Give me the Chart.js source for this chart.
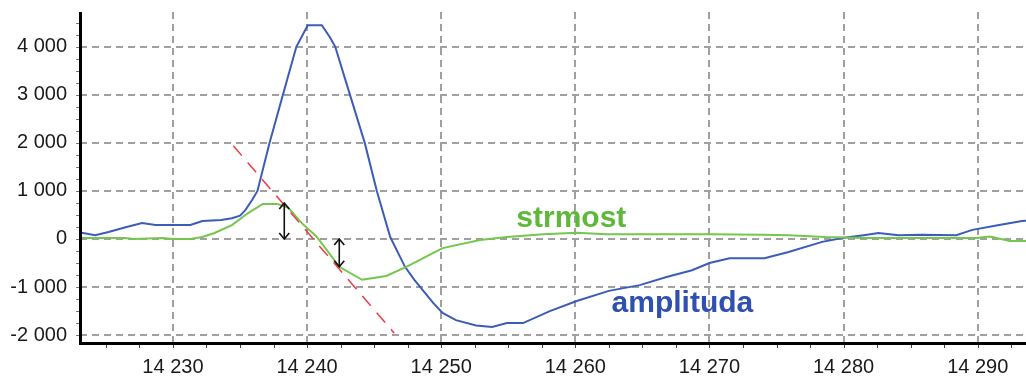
<!DOCTYPE html>
<html>
<head>
<meta charset="utf-8">
<script src="https://cdn.jsdelivr.net/npm/chart.js@4"></script>
<style>
html,body{margin:0;padding:0;background:#fff;}
#wrap{width:1026px;height:378px;}
</style>
</head>
<body>
<div id="wrap"><canvas id="c" width="1026" height="378"></canvas></div>
<script>
// ---- data ----
const ampX = [14223.1,14223.3,14224.2,14225.2,14226.4,14227.7,14228.7,14230,14231.3,14232.2,14233.6,14234.4,14235.0,14235.4,14235.9,14236.3,14237.2,14238.2,14239.2,14240.05,14241.1,14241.7,14242.1,14243.2,14244.3,14245.2,14246.2,14247.3,14248.0,14249.4,14250.1,14251.1,14252.6,14253.8,14254.9,14256.1,14258.1,14260.1,14262.5,14264.8,14266.8,14268.7,14270.0,14271.5,14274.1,14275.9,14278.4,14279.9,14281.5,14282.6,14284.1,14285.8,14288.4,14289.6,14291.6,14293.3,14293.6];
const ampY = [130,125,80,145,240,330,290,290,290,375,395,430,485,600,810,1000,2000,3000,4000,4450,4450,4200,4000,3000,2000,1000,40,-580,-850,-1330,-1540,-1690,-1800,-1830,-1750,-1750,-1500,-1290,-1080,-960,-790,-650,-500,-400,-400,-270,-60,20,80,125,80,90,80,190,290,375,380];
const strX = [14223.1,14226.4,14227.1,14229.2,14230,14231.3,14232.2,14233.1,14234.4,14235.6,14236.7,14237.8,14238.6,14239.6,14240.6,14240.9,14242.4,14244.1,14245.9,14247.4,14250.1,14252.9,14254.9,14257.6,14260.1,14262.3,14270.0,14274.0,14275.9,14278.6,14281.6,14289.9,14290.9,14292.4,14293.6];
const strY = [20,20,0,20,0,0,40,125,290,540,730,730,650,330,80,-20,-580,-850,-770,-580,-190,-20,40,100,130,100,100,90,80,40,20,20,50,-40,-40];
const tangentX = [14234.5,14246.5];
const tangentY = [1940,-1960];
const arrowX = [14238.3,14242.4];
const arrowFrom = [750,0];
const arrowTo = [0,-580];
const labelText = ['strmost','amplituda'];
const labelX = [14255.6,14262.7];
const labelY = [250,-1520];
const xTicks = [14230,14240,14250,14260,14270,14280,14290];
const yTicks = [-2000,-1000,0,1000,2000,3000,4000];

const BLUE = '#3b5db8', GREEN = '#74c64c', RED = '#ee3b45';
const fmt = v => { const s = Math.abs(v).toString().replace(/\B(?=(\d{3})+(?!\d))/g,' '); return (v<0?'-':'')+s; };
const zip = (xs,ys) => xs.map((x,i)=>({x:x,y:ys[i]}));

const decor = {
  id:'decor',
  afterDraw(chart){
    const {ctx, chartArea:a, scales:{x,y}} = chart;
    ctx.save();
    // arrows
    ctx.strokeStyle='#111'; ctx.lineWidth=1.6;
    arrowX.forEach((xv,i)=>{
      const px = x.getPixelForValue(xv);
      const y1 = y.getPixelForValue(arrowFrom[i]), y2 = y.getPixelForValue(arrowTo[i]);
      ctx.beginPath(); ctx.moveTo(px,y1); ctx.lineTo(px,y2); ctx.stroke();
      ctx.beginPath();
      ctx.moveTo(px-5,y1+6); ctx.lineTo(px,y1); ctx.lineTo(px+5,y1+6);
      ctx.moveTo(px-5,y2-6); ctx.lineTo(px,y2); ctx.lineTo(px+5,y2-6);
      ctx.stroke();
    });
    // series labels
    ctx.font='bold 30px "Liberation Sans", Arial, sans-serif';
    ctx.textBaseline='alphabetic'; ctx.textAlign='left';
    const cols=['#5fb83a','#2f50b0'];
    labelText.forEach((t,i)=>{
      ctx.fillStyle=cols[i];
      ctx.fillText(t, x.getPixelForValue(labelX[i]), y.getPixelForValue(labelY[i]));
    });
    // minor ticks
    ctx.strokeStyle='#444'; ctx.lineWidth=1;
    for(let v=14222.5; v<=x.max; v+=2.5){
      if(v<x.min) continue;
      const px=Math.round(x.getPixelForValue(v))+0.5;
      ctx.beginPath(); ctx.moveTo(px,a.bottom+1); ctx.lineTo(px,a.bottom+6); ctx.stroke();
    }
    ctx.strokeStyle='#777';
    for(let v=-2000; v<=y.max; v+=250){
      const py=Math.round(y.getPixelForValue(v))+0.5;
      ctx.beginPath(); ctx.moveTo(a.left-4,py); ctx.lineTo(a.left,py); ctx.stroke();
    }
    // axis lines
    ctx.strokeStyle='#000'; ctx.lineWidth=3;
    ctx.beginPath(); ctx.moveTo(a.left+0.5,a.top); ctx.lineTo(a.left+0.5,a.bottom+1.5); ctx.lineTo(a.right,a.bottom+1.5); ctx.stroke();
    ctx.restore();
  }
};

new Chart(document.getElementById('c'),{
  type:'line',
  data:{datasets:[
    {label:'tangent', data:zip(tangentX,tangentY), borderColor:RED, borderWidth:1.5, borderDash:[13,9], pointRadius:0, order:0},
    {label:'strmost', data:zip(strX,strY), borderColor:GREEN, borderWidth:2, pointRadius:0, tension:0, order:1},
    {label:'amplituda', data:zip(ampX,ampY), borderColor:BLUE, borderWidth:2, pointRadius:0, tension:0, order:2}
  ]},
  options:{
    responsive:false, animation:false,
    layout:{padding:{top:12,right:0,left:0,bottom:0}},
    plugins:{legend:{display:false}, tooltip:{enabled:false}},
    scales:{
      x:{type:'linear', min:14223.07, max:14293.6,
        afterFit:s=>{s.height=36; s.paddingLeft=0; s.paddingRight=0;},
        afterBuildTicks:s=>{s.ticks=xTicks.map(v=>({value:v}));},
        ticks:{font:{family:'"Liberation Sans", Arial, sans-serif',size:20}, color:'#1a1a1a', padding:13, maxRotation:0, autoSkip:false, callback:v=>fmt(v)},
        grid:{color:'#a0a0a0', lineWidth:2, drawTicks:false},
        border:{display:false, dash:[7,5]}
      },
      y:{type:'linear', min:-2144, max:4724,
        afterFit:s=>{s.width=80; s.paddingTop=0; s.paddingBottom=0;},
        afterBuildTicks:s=>{s.ticks=yTicks.map(v=>({value:v}));},
        ticks:{font:{family:'"Liberation Sans", Arial, sans-serif',size:20}, color:'#1a1a1a', padding:13, autoSkip:false, callback:v=>fmt(v)},
        grid:{color:'#a0a0a0', lineWidth:2, drawTicks:false},
        border:{display:false, dash:[7,5]}
      }
    }
  },
  plugins:[decor]
});
</script>
</body>
</html>
